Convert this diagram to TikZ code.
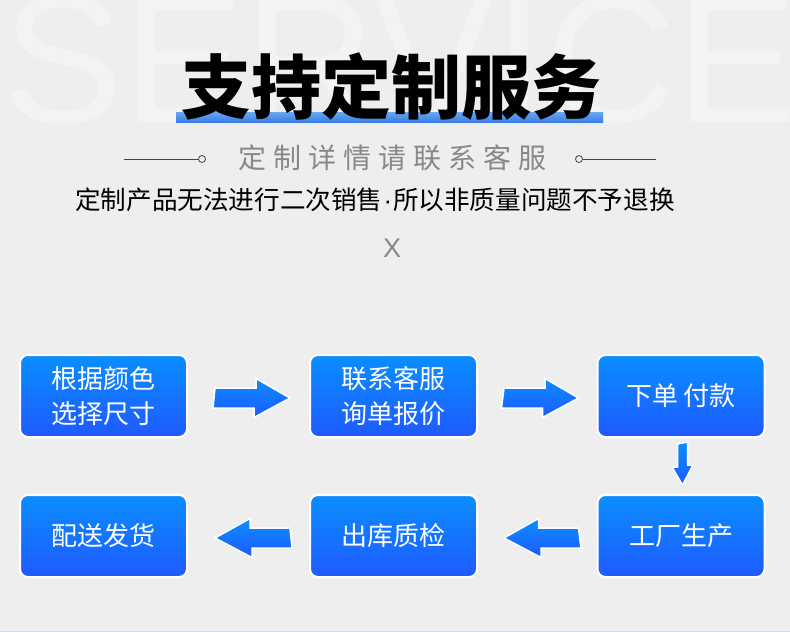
\documentclass[tikz,border=0pt]{standalone}
\usepackage{fontspec}
\usetikzlibrary{calc}
\newfontfamily\cjk{Noto Sans CJK SC}
\newfontfamily\wmfont{Liberation Sans}
\definecolor{bgc}{HTML}{EEEEEE}
\definecolor{wmc}{HTML}{F3F3F3}
\definecolor{boxtop}{HTML}{0A8EFF}
\definecolor{boxbot}{HTML}{1F5AFF}
\definecolor{bartop}{HTML}{68A8F2}
\definecolor{barbot}{HTML}{3A7DE5}
\definecolor{subgray}{HTML}{888888}
\definecolor{linegray}{HTML}{444444}
\definecolor{bottomline}{HTML}{D3DBE8}
\tikzset{
  stepbox/.style={rounded corners=8pt, draw=white, line width=2pt,
    top color=boxtop, bottom color=boxbot, minimum width=167pt, minimum height=82pt,
    text=white, align=center, inner sep=0pt,
    font=\cjk\fontsize{26}{35}\selectfont},
  arr/.style={draw=white, line width=1.5pt, top color=boxtop, bottom color=boxbot, line join=miter},
}
\newcommand\rarr[2]{\shade[arr] (#1) ++(0,-10) -- ++(41,0) -- ++(0,-9.5) -- (#2) -- ++(-36,19.5) -- ++(0,-9.5) -- ++(-41,0) -- cycle;}
\newcommand\larr[2]{\shade[arr] (#1) ++(0,-10) -- ++(-40,0) -- ++(0,-9.5) -- (#2) -- ++(37,19.5) -- ++(0,-9.5) -- ++(40,0) -- cycle;}
\newcommand\darr[2]{\shade[arr] (#1) ++(-5,0) -- ++(0,23) -- ++(-5.5,0) -- (#2) -- ++(10.5,-20) -- ++(-5.5,0) -- ++(0,-23) -- cycle;}
\begin{document}
\begin{tikzpicture}[x=1pt,y=-1pt]
\useasboundingbox (0,0) rectangle (790,632);
\fill[bgc] (0,0) rectangle (790,632);
\begin{scope}
\clip (0,0) rectangle (790,632);
\node[anchor=base west, inner sep=0pt, text=wmc, font=\wmfont\fontsize{182}{182}\selectfont] (wm) at (2,122) {SERVICE};
\end{scope}
\fill[bottomline] (0,630.5) rectangle (790,632);
% title
\shade[top color=bartop, bottom color=barbot] (176,112) rectangle (603,122);
\node[inner sep=0pt, font=\cjk\bfseries\fontsize{70}{70}\selectfont] (title) at (391,87) {支持定制服务};
% subtitle
\foreach \c [count=\i from 0] in {定,制,详,情,请,联,系,客,服}{
  \node[inner sep=0pt, text=subgray, font=\cjk\fontsize{28}{28}\selectfont] (s\i) at (252+35*\i,158) {\c};
}
\coordinate (l1) at (124,159);
\coordinate (r1) at (656,159);
\node[circle, draw=linegray, line width=0.8pt, minimum size=7pt, inner sep=0pt] (cl) at (202,159) {};
\node[circle, draw=linegray, line width=0.8pt, minimum size=7pt, inner sep=0pt] (cr) at (579,159) {};
\draw[linegray, line width=0.8pt] (l1) -- (cl.west);
\draw[linegray, line width=0.8pt] (cr.east) -- (r1);
\node[inner sep=0pt, font=\cjk\fontsize{25.6}{25.6}\selectfont] (note) at (375,200) {定制产品无法进行二次销售{\wmfont\fontsize{25.6}{25.6}\selectfont\kern1pt·\kern1pt}所以非质量问题不予退换};
\node[inner sep=0pt, text=subgray, font=\wmfont\fontsize{27}{27}\selectfont] (x) at (392,248) {X};
% boxes
\node[stepbox] (b1) at (103.5,396) {根据颜色\\选择尺寸};
\node[stepbox] (b2) at (393.5,396) {联系客服\\询单报价};
\node[stepbox] (b3) at (681,396) {下单 付款};
\node[stepbox] (b6) at (681,536) {工厂生产};
\node[stepbox] (b5) at (393.5,536) {出库质检};
\node[stepbox] (b4) at (103.5,536) {配送发货};
% arrows
\coordinate (a1s) at ($(b1.east)+(27,2)$);
\coordinate (a1e) at ($(b2.west)+(-19,2)$);
\rarr{a1s}{a1e}
\coordinate (a2s) at ($(b2.east)+(26,2)$);
\coordinate (a2e) at ($(b3.west)+(-18,2)$);
\rarr{a2s}{a2e}
\coordinate (a3s) at ($(b3.south)+(1.5,6)$);
\coordinate (a3e) at ($(b6.north)+(1.5,-9)$);
\darr{a3s}{a3e}
\coordinate (a4s) at ($(b6.west)+(-18,2)$);
\coordinate (a4e) at ($(b5.east)+(26,2)$);
\larr{a4s}{a4e}
\coordinate (a5s) at ($(b5.west)+(-19,2)$);
\coordinate (a5e) at ($(b4.east)+(27,2)$);
\larr{a5s}{a5e}
\end{tikzpicture}
\end{document}
